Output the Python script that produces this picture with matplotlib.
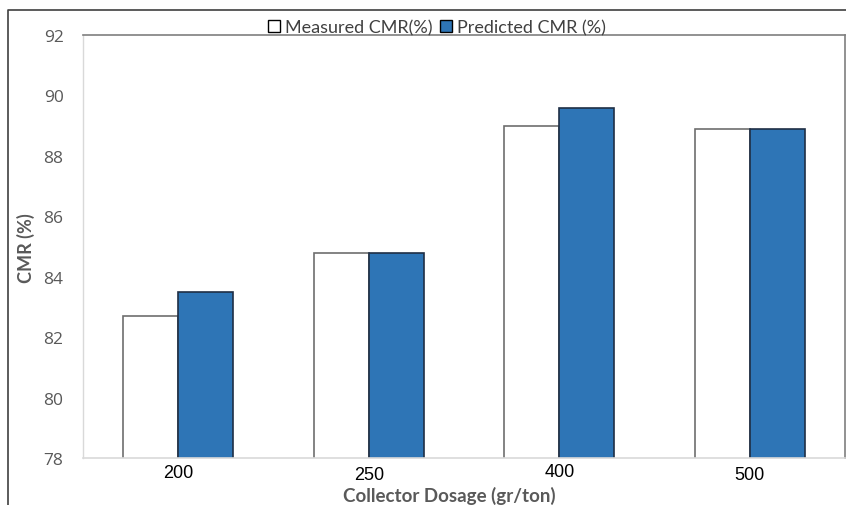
import numpy as np
import matplotlib.pyplot as plt
from matplotlib.lines import Line2D
from matplotlib.patches import Patch
import matplotlib.transforms as mtransforms

# values
dosage = ['200', '250', '400', '500']
measured_cmr = [82.7, 84.8, 89.0, 88.9]
predicted_cmr = [83.5, 84.8, 89.6, 88.9]

calibri_like = ['Lato', 'DejaVu Sans']

fig = plt.figure(figsize=(8.46, 5.06), dpi=100)
ax = fig.add_axes([83 / 846, 1 - 459 / 506, 762 / 846, 423 / 506])

x = np.arange(len(dosage))
w = 0.29
ax.bar(x - w / 2, measured_cmr, w, color='white', edgecolor='#6e6e6e', linewidth=1.2,
       label='Measured CMR(%)')
ax.bar(x + w / 2, predicted_cmr, w, color='#2E75B6', edgecolor='#1f2f45', linewidth=1.2,
       label='Predicted CMR (%)')

ax.set_xlim(-0.5, len(dosage) - 0.5)
ax.set_ylim(78, 92)
ax.set_yticks(range(78, 93, 2))
ax.set_xticks(x)
ax.set_xticklabels(dosage, family=['Liberation Sans', 'DejaVu Sans'], fontsize=13, color='black')
for lab in ax.get_yticklabels():
    lab.set_family(['Open Sans', 'DejaVu Sans'])
    lab.set_fontsize(12.5)
    lab.set_color('#595959')
ax.tick_params(axis='both', length=0)
ax.tick_params(axis='y', pad=14)
ax.tick_params(axis='x', pad=4)

# the x tick labels in the original sit at slightly different heights
shifts = [0, -2, 1, -2]
for lab, s in zip(ax.get_xticklabels(), shifts):
    lab.set_transform(lab.get_transform() + mtransforms.ScaledTranslation(0, s / 100, fig.dpi_scale_trans))

for side in ['top', 'right']:
    ax.spines[side].set_color('#7f7f7f')
    ax.spines[side].set_linewidth(1.2)
ax.spines['left'].set_color('#d9d9d9')
ax.spines['bottom'].set_color('#d9d9d9')
ax.spines['left'].set_linewidth(1.0)
ax.spines['bottom'].set_linewidth(1.2)

fig.text(26 / 846, 1 - 248 / 506, 'CMR (%)', rotation=90, ha='center', va='center',
         family=calibri_like, fontsize=13, fontweight='bold', color='#595959')
fig.text(449 / 846, 1 - 502 / 506, 'Collector Dosage (gr/ton)', ha='center', va='baseline',
         family=calibri_like, fontsize=13.5, fontweight='bold', color='#595959')

handles = [Patch(facecolor='white', edgecolor='black', linewidth=1.0),
           Patch(facecolor='#2E75B6', edgecolor='black', linewidth=1.0)]
fig.legend(handles, ['Measured CMR(%)', 'Predicted CMR (%)'], loc='center',
           bbox_to_anchor=(437 / 846, 1 - 28 / 506), ncol=2, frameon=False,
           prop={'family': calibri_like, 'size': 13}, handlelength=0.65, handleheight=0.65,
           handletextpad=0.3, columnspacing=0.4, labelcolor='#404040')

# outer border of the original picture (left and top only)
fig.add_artist(Line2D([8 / 846, 8 / 846, 1.0], [0.0, 1 - 11 / 506, 1 - 11 / 506],
                      transform=fig.transFigure, color='#404040', linewidth=1.2))

fig.savefig('out.png', dpi=100)
